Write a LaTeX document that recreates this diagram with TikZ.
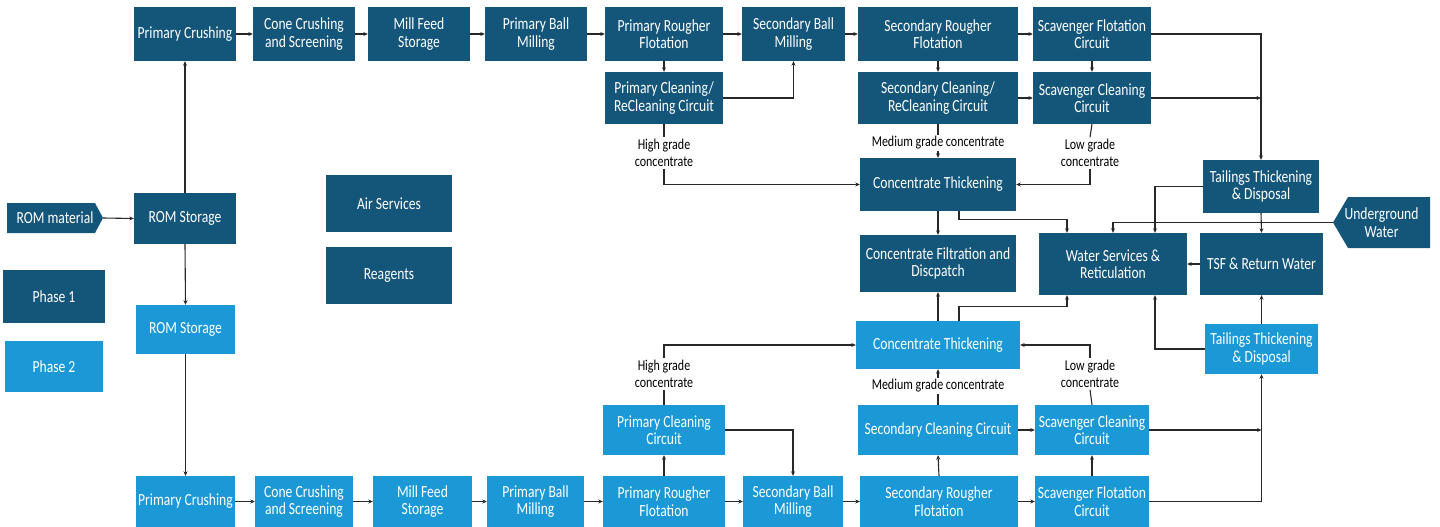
\documentclass[tikz,border=0pt]{standalone}
\usepackage{fontspec}
\setmainfont{Carlito}[FakeStretch=0.8]
\usetikzlibrary{arrows.meta}
\definecolor{pone}{RGB}{20,86,122}
\definecolor{ptwo}{RGB}{27,153,214}
\definecolor{linec}{RGB}{40,40,40}
\newcommand\bx[7]{\node[#1, minimum width={(#5-#3)*1pt}, minimum height={(#6-#4)*1pt}] (#2) at ({(#3+#5)/2},{(#4+#6)/2}) {#7};}
\begin{document}
\begin{tikzpicture}[x=1pt,y=-1pt,
  box/.style={inner sep=0pt, align=center, text=white, font=\fontsize{17}{17.5}\selectfont},
  pa/.style={box, fill=pone},
  pb/.style={box, fill=ptwo},
  lbl/.style={inner sep=1.5pt, align=center, text=black, font=\fontsize{15}{17.5}\selectfont},
  wire/.style={draw=linec, line width=1.1pt},
  arr/.style={wire, -{Stealth[length=4.5pt,width=4pt]}}
]
\useasboundingbox (0,0) rectangle (1440,527);
% ---------- Phase 1 top rows
\bx{pa}{pc1}{134}{7}{236}{61}{Primary Crushing}
\bx{pa}{cc1}{253}{7}{355}{61}{Cone Crushing\\and Screening}
\bx{pa}{mf1}{368}{7}{470}{61}{Mill Feed\\Storage}
\bx{pa}{pbm1}{485}{7}{587}{61}{Primary Ball\\Milling}
\bx{pa}{prf1}{605}{7}{723}{61}{Primary Rougher\\Flotation}
\bx{pa}{sbm1}{742}{7}{845}{61}{Secondary Ball\\Milling}
\bx{pa}{srf1}{858}{7}{1018}{61}{Secondary Rougher\\Flotation}
\bx{pa}{sfc1}{1033}{7}{1151}{61}{Scavenger Flotation\\Circuit}
\bx{pa}{pcl1}{605}{72}{723}{124}{Primary Cleaning/\\ReCleaning Circuit}
\bx{pa}{scl1}{858}{72}{1018}{124}{Secondary Cleaning/\\ReCleaning Circuit}
\bx{pa}{svc1}{1033}{72}{1151}{124}{Scavenger Cleaning\\Circuit}
\bx{pa}{ct1}{860}{158}{1016}{211}{Concentrate Thickening}
\bx{pa}{cf}{860}{235}{1016}{292}{Concentrate Filtration and\\Discpatch}
\bx{pa}{ws}{1039}{233}{1187}{295}{Water Services \&\\Reticulation}
\bx{pa}{tsf}{1200}{233}{1323}{295}{TSF \& Return Water}
\bx{pa}{tt1}{1203}{160}{1319}{213}{Tailings Thickening\\\& Disposal}
% pentagons
\fill[pone] (1333,222.5) -- (1348,197) -- (1430,197) -- (1430,248) -- (1348,248) -- cycle;
\bx{box}{ug}{1333}{197}{1430}{248}{Underground\\Water}
\fill[pone] (7,203) -- (95,203) -- (103,218) -- (95,233) -- (7,233) -- cycle;
\bx{box}{rm}{7}{203}{103}{233}{ROM material}
% left side
\bx{pa}{rs1}{134}{193}{236}{244}{ROM Storage}
\bx{pb}{rs2}{136}{305}{235}{354}{ROM Storage}
\bx{pa}{ph1}{3}{270}{105}{323}{Phase 1}
\bx{pb}{ph2}{5}{341}{103}{392}{Phase 2}
\bx{pa}{air}{326}{175}{452}{232}{Air Services}
\bx{pa}{rea}{326}{247}{452}{304}{Reagents}
% ---------- Phase 2
\bx{pb}{ct2}{856}{321}{1020}{369}{Concentrate Thickening}
\bx{pb}{tt2}{1205}{324}{1318}{374}{Tailings Thickening\\\& Disposal}
\bx{pb}{pcl2}{603}{405}{725}{455}{Primary Cleaning\\Circuit}
\bx{pb}{scl2}{858}{405}{1018}{455}{Secondary Cleaning Circuit}
\bx{pb}{svc2}{1035}{405}{1149}{455}{Scavenger Cleaning\\Circuit}
\bx{pb}{pc2}{136}{476}{235}{527}{Primary Crushing}
\bx{pb}{cc2}{255}{476}{353}{527}{Cone Crushing\\and Screening}
\bx{pb}{mf2}{373}{476}{472}{527}{Mill Feed\\Storage}
\bx{pb}{pbm2}{487}{476}{584}{527}{Primary Ball\\Milling}
\bx{pb}{prf2}{603}{476}{725}{527}{Primary Rougher\\Flotation}
\bx{pb}{sbm2}{743}{476}{843}{527}{Secondary Ball\\Milling}
\bx{pb}{srf2}{860}{476}{1018}{527}{Secondary Rougher\\Flotation}
\bx{pb}{sfc2}{1035}{476}{1149}{527}{Scavenger Flotation\\Circuit}
% labels
\node[lbl] (hg1) at (664,153) {High grade\\concentrate};
\node[lbl] (mg1) at (938,143) {Medium grade concentrate};
\node[lbl] (lg1) at (1090,153) {Low grade\\concentrate};
\node[lbl] (hg2) at (664,374) {High grade\\concentrate};
\node[lbl] (mg2) at (938,386) {Medium grade concentrate};
\node[lbl] (lg2) at (1090,374) {Low grade\\concentrate};
% ---------- connectors phase 1
\foreach \a/\b in {pc1/cc1,cc1/mf1,mf1/pbm1,pbm1/prf1,prf1/sbm1,sbm1/srf1,srf1/sfc1,
                   pc2/cc2,cc2/mf2,mf2/pbm2,pbm2/prf2,prf2/sbm2,sbm2/srf2,srf2/sfc2}
  \draw[arr] (\a) -- (\b);
\draw[arr] (prf1.south) -- (pcl1.north);
\draw[arr] (srf1.south) -- (scl1.north);
\draw[arr] (sfc1.south) -- (svc1.north);
\draw[arr] (pcl1.east) -| (sbm1.south);
\draw[arr] (scl1.east) -- (svc1.west);
\draw[wire] (pcl1.south) -- (hg1.north);
\draw[arr] (hg1.south) |- (ct1.west);
\draw[wire] (scl1.south) -- (mg1.north);
\draw[arr] (mg1.south) -- (ct1.north);
\draw[wire] (svc1.south) -- (lg1.north);
\draw[arr] (lg1.south) |- (ct1.east);
\draw[arr] (sfc1.east) -| (tt1.north);
\coordinate (j1) at (tt1.north |- svc1.east);
\draw[arr] (svc1.east) -- (j1);
\draw[arr] (rm.east) -- (rs1.west);
\draw[arr] (rs1.north) -- (pc1.south);
\draw[arr] (rs1.south) -- (rs2.north);
\draw[arr] (rs2.south) -- (pc2.north);
% water area
\draw[arr] (ct1.south) -- (cf.north);
\draw[arr] ([xshift=21pt]ct1.south) -- ++(0,8) -| ([xshift=-46pt]ws.north);
\draw[arr] (ug.west) -| (ws.north);
\draw[arr] (tt1.west) -| ([xshift=42pt]ws.north);
\draw[arr] (tt1.south) -- (tsf.north);
\draw[arr] (tsf.west) -- (ws.east);
\draw[arr] (tt2.north) -- (tsf.south);
\draw[arr] (tt2.west) -| ([xshift=42pt]ws.south);
\draw[arr] (ct2.north) -- (cf.south);
\draw[arr] ([xshift=21pt]ct2.north) -- ++(0,-14) -| ([xshift=-46pt]ws.south);
% ---------- connectors phase 2
\draw[arr] (prf2.north) -- (pcl2.south);
\draw[arr] (srf2.north) -- (scl2.south);
\draw[arr] (sfc2.north) -- (svc2.south);
\draw[arr] (pcl2.east) -| (sbm2.north);
\draw[arr] (scl2.east) -- (svc2.west);
\draw[wire] (pcl2.north) -- (hg2.south);
\draw[arr] (hg2.north) |- (ct2.west);
\draw[wire] (scl2.north) -- (mg2.south);
\draw[arr] (mg2.north) -- (ct2.south);
\draw[wire] (svc2.north) -- (lg2.south);
\draw[arr] (lg2.north) |- (ct2.east);
\draw[arr] (sfc2.east) -| (tt2.south);
\coordinate (j2) at (tt2.south |- svc2.east);
\draw[arr] (svc2.east) -- (j2);
\end{tikzpicture}
\end{document}
